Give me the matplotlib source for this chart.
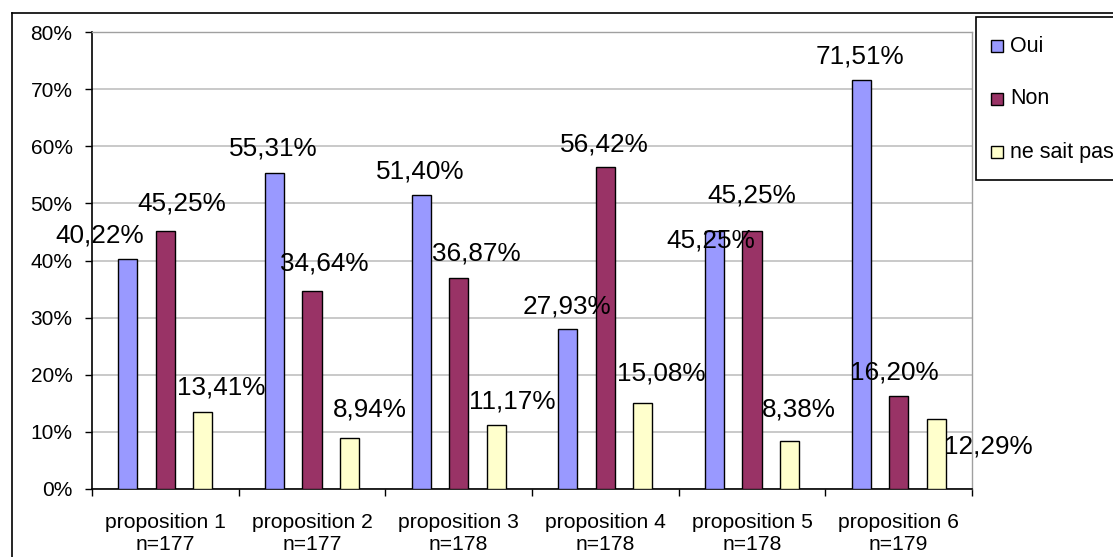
import matplotlib
matplotlib.use("Agg")
import matplotlib.pyplot as plt
from matplotlib.patches import Rectangle
from matplotlib.lines import Line2D
from matplotlib.ticker import FixedLocator
import numpy as np

plt.rcParams['font.family'] = ['Liberation Sans', 'DejaVu Sans']

# data
categories = ['proposition 1\nn=177', 'proposition 2\nn=177', 'proposition 3\nn=178',
              'proposition 4\nn=178', 'proposition 5\nn=178', 'proposition 6\nn=179']
series = ['Oui', 'Non', 'ne sait pas']
oui = [40.22, 55.31, 51.40, 27.93, 45.25, 71.51]
non = [45.25, 34.64, 36.87, 56.42, 45.25, 16.20]
nsp = [13.41, 8.94, 11.17, 15.08, 8.38, 12.29]

colors = ['#9999FF', '#993366', '#FFFFCC']

# label offsets in pixels (dx, dy) from bar top, like the Excel placement
label_offsets = [
    [(-28, 24), (-1, 25), (-1, 24), (-1, 23), (-4, -10), (-1, 24)],
    [(16, 27), (12, 28), (18, 25), (-1, 22), (0, 35), (-4, 24)],
    [(18, 25), (20, 28), (16, 24), (18, 29), (9, 32), (52, -28)],
]

W, H = 1113, 557
fig = plt.figure(figsize=(W / 100, H / 100), dpi=100)
ax = fig.add_axes([92 / W, 1 - 489 / H, (972 - 92) / W, (489 - 32) / H])

x = np.arange(len(categories))
width = 0.13
offsets = [-0.256, 0.0, 0.256]

for s, (vals, col, off, lo) in enumerate(zip([oui, non, nsp], colors, offsets, label_offsets)):
    bars = ax.bar(x + off, vals, width, color=col, edgecolor='black', linewidth=1,
                  label=series[s], zorder=3)
    for b, v, (dx, dy) in zip(bars, vals, lo):
        ax.annotate(('%.2f%%' % v).replace('.', ','),
                    xy=(b.get_x() + b.get_width() / 2, v),
                    xytext=(dx, dy), textcoords='offset pixels',
                    ha='center', va='center', fontsize=18.8, zorder=5,
                    annotation_clip=False)

ax.set_xlim(-0.5, 5.5)
ax.set_ylim(0, 80)
ax.set_yticks(np.arange(0, 81, 10))
ax.set_yticklabels(['%d%%' % t for t in range(0, 81, 10)], fontsize=15)
ax.yaxis.grid(True, color='#C0C0C0', linewidth=1.2, zorder=0)

ax.set_xticks(x)
ax.set_xticklabels(categories, fontsize=15.2, linespacing=1.2)
ax.xaxis.set_minor_locator(FixedLocator(np.arange(-0.5, 6, 1)))
ax.tick_params(axis='x', which='major', length=0, pad=17)
ax.tick_params(axis='x', which='minor', length=5, width=1, direction='out')
ax.tick_params(axis='y', length=5, width=1, direction='out', pad=9)

for side in ['left', 'bottom']:
    ax.spines[side].set_color('black')
    ax.spines[side].set_linewidth(1.2)
for side in ['right', 'top']:
    ax.spines[side].set_color('#A0A0A0')
    ax.spines[side].set_linewidth(1)
ax.set_axisbelow(True)

# outer chart frame
fig.add_artist(Line2D([12 / W, 1], [1 - 13 / H, 1 - 13 / H], color='black', linewidth=1.2))
fig.add_artist(Line2D([12 / W, 12 / W], [0, 1 - 13 / H], color='black', linewidth=1.2))

# legend box
fig.add_artist(Rectangle((976 / W, 1 - 180 / H), (W + 10 - 976) / W, (180 - 17) / H,
                         facecolor='white', edgecolor='black', linewidth=1.2,
                         transform=fig.transFigure, clip_on=False))
leg_y = [46, 99, 152]
for name, col, yy in zip(series, colors, leg_y):
    fig.add_artist(Rectangle((991 / W, 1 - (yy + 6) / H), 12 / W, 12 / H,
                             facecolor=col, edgecolor='black', linewidth=1,
                             transform=fig.transFigure))
    fig.text(1010 / W, 1 - yy / H, name, fontsize=15.5, va='center', ha='left')

fig.savefig('out.png', dpi=100)
